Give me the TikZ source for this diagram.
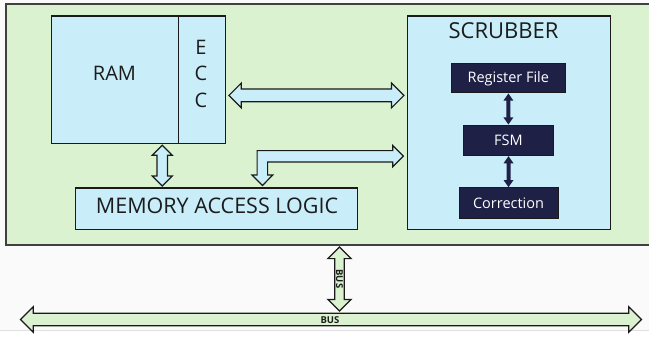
\documentclass[tikz,border=0pt]{standalone}
\usepackage{fontspec}
\setmainfont{Open Sans}
\usetikzlibrary{shapes.arrows,calc}
\definecolor{panelgreen}{HTML}{DAF2D0}
\definecolor{boxblue}{HTML}{C9EEFA}
\definecolor{navy}{HTML}{1E2046}
\definecolor{edge}{HTML}{1A1A1A}
\definecolor{txt}{HTML}{1C1C1C}
\tikzset{
  bluebox/.style={draw=edge,line width=1.3pt,fill=boxblue,inner sep=0pt,anchor=north west},
  navybox/.style={draw=edge,line width=1pt,fill=navy,text=white,inner sep=0pt,anchor=north west,font=\fontsize{14.5}{16}\selectfont},
  bigtext/.style={text=txt,inner sep=0pt,font=\fontsize{20}{24}\selectfont},
  fatarrow/.style={double arrow,draw=edge,line width=1.2pt,fill=boxblue,inner sep=0pt,double arrow head extend=6pt},
  busarrow/.style={double arrow,draw=edge,line width=1.2pt,fill=panelgreen,inner sep=0pt,double arrow head extend=6.5pt},
  smallarrow/.style={double arrow,draw=none,fill=navy,inner sep=0pt,double arrow head extend=3pt,double arrow tip angle=70},
  bustext/.style={inner sep=0pt,text=txt,font=\fontsize{9.5}{10}\selectfont\bfseries}
}
\begin{document}
\begin{tikzpicture}[x=1pt,y=-1pt]
\useasboundingbox (0,0) rectangle (649,337);
\clip (0,0) rectangle (649,337);
\fill[white] (0,0) rectangle (649,337);
\fill[black!2] (0,0) rectangle (649,330);
\draw[black!12,line width=0.6pt] (0,330) -- (649,330);
% panel
\node[draw=black!75,line width=1.6pt,fill=panelgreen,anchor=north west,inner sep=0pt,minimum width=660pt,minimum height=241pt] (panel) at (5,3) {};
% RAM + ECC
\node[bluebox,minimum width=127pt,minimum height=127.4pt] (ram) at (51,15.3) {};
\node[bluebox,minimum width=47pt,minimum height=127.4pt] (ecc) at (178,15.3) {};
\node[bigtext] (ramtxt) at (114.5,73.5) {RAM};
\node[bigtext,align=center,font=\fontsize{20}{26.5}\selectfont] (ecctxt) at (201,73.5) {E\\C\\C};
% MAL
\node[bluebox,minimum width=282.5pt,minimum height=41.7pt] (mal) at (74.5,187.3) {};
\node[bigtext,font=\fontsize{21.5}{24}\selectfont] (maltxt) at (217,206) {MEMORY ACCESS LOGIC};
% Scrubber
\node[bluebox,minimum width=203.2pt,minimum height=213.4pt] (scrub) at (406.5,15.3) {};
\node[bigtext,font=\fontsize{22}{24}\selectfont] (scrubtxt) at (503.5,31) {SCRUBBER};
\node[navybox,minimum width=113.6pt,minimum height=29pt] (reg) at (451,63.3) {Register File};
\node[navybox,minimum width=90pt,minimum height=30.3pt] (fsm) at (463,124.7) {FSM};
\node[navybox,minimum width=98.9pt,minimum height=31pt] (corr) at (458.6,187.3) {Correction};
% inner arrows
\node[smallarrow,rotate=90,minimum height=31pt,inner ysep=1.8pt] (a1) at ($(reg.south)!0.5!(fsm.north)$) {};
\node[smallarrow,rotate=90,minimum height=31pt,inner ysep=1.8pt] (a2) at ($(fsm.south)!0.5!(corr.north)$) {};
% ECC <-> scrubber
\node[fatarrow,minimum height=175pt,inner ysep=5.8pt] (a3) at ($($(ecc.east)!0.5!(scrub.west)$)+(0,-5.7)$) {};
% RAM <-> MAL
\node[fatarrow,rotate=90,minimum height=40.7pt,inner ysep=4.6pt,double arrow head extend=4.7pt] (a4) at ($(ram.south west)!0.5!(mal.north west)+(99.5,0)$) {};
% bent arrow MAL <-> scrubber
\coordinate (tipa) at ($(mal.north west)+(188,-1.8)$);
\coordinate (tipb) at ($(scrub.west)+(-3.2,33.5)$);
\draw[edge,line width=1.2pt,fill=boxblue,line join=miter]
  (tipb) -- ++(-10.5,-10.5) -- ++(0,5) -- ($(tipa|-tipb)+(-5.4,-5.5)$)
  -- ($(tipa)+(-5.4,-10.5)$) -- ++(-5.1,0) -- (tipa) -- ++(10.2,-10.5) -- ++(-5.1,0)
  -- ($(tipa|-tipb)+(5.1,5.8)$) -- ($(tipb)+(-10.5,5.8)$) -- ++(0,4.7) -- cycle;
% buses
\node[busarrow,minimum height=621pt,inner ysep=5.6pt] (bus) at (331,319.5) {};
\node[bustext] (bustxt) at ($(bus.center)+(-1,0.5)$) {BUS};
\node[busarrow,rotate=90,minimum height=64pt,inner ysep=4.2pt,double arrow head extend=6.8pt] (vbus) at (339.5,279) {};
\node[bustext,rotate=-90] (vbustxt) at (vbus.center) {BUS};
\end{tikzpicture}
\end{document}
